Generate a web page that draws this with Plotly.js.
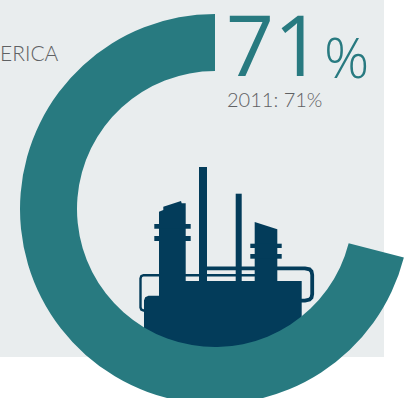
<!DOCTYPE html>
<html>
<head>
<meta charset="utf-8">
<script src="https://cdn.plot.ly/plotly-3.0.1.min.js"></script>
<style>
  html, body { margin: 0; padding: 0; width: 411px; height: 398px; overflow: hidden; background: #fff; }
</style>
</head>
<body>
<div id="chart"></div>
<script>
// Share of the region, this year and in 2011
const regionLabel = "ERICA";
const shareLabels = ["Remainder", "Share"];
const shareValues = [29, 71];
const previousYear = 2011;
const previousShare = 71;

const W = 411, H = 410;
const TEAL = "#287a80", NAVY = "#033c5a", PANEL = "#e9edee", GREY = "#5f6163";

// Convert page pixels to paper fractions
const px = x => x / W;
const py = y => 1 - y / H;
const fillRect = (x0, y0, x1, y1, color) => ({
  type: "rect", xref: "paper", yref: "paper", layer: "below",
  x0: px(x0), x1: px(x1), y0: py(y0), y1: py(y1),
  fillcolor: color, line: { width: 0 }
});
const pathOf = pts => "M" + pts.map(p => px(p[0]).toFixed(5) + "," + py(p[1]).toFixed(5)).join(" L");
const fillPath = pts => ({
  type: "path", xref: "paper", yref: "paper", layer: "below",
  path: pathOf(pts) + " Z", fillcolor: NAVY, line: { width: 0 }
});
const strokePath = (pts, w) => ({
  type: "path", xref: "paper", yref: "paper", layer: "below",
  path: pathOf(pts),
  fillcolor: "rgba(0,0,0,0)", line: { color: NAVY, width: w }
});

// Refinery silhouette sitting behind the ring
const refinery = [
  // pipes
  strokePath([[147, 310.5], [143.5, 310.5], [141.3, 309.5], [140.5, 307.5], [140.5, 278.5], [141.3, 276.2], [143.5, 275.2], [260, 275.2]], 2.4),
  strokePath([[205, 268.3], [305, 268.3], [309.5, 269.3], [311.5, 271.5], [312.2, 275], [312.2, 294], [311.5, 297.5], [309.5, 299.6], [305, 300.6], [300, 300.6]], 3.8),
  // stacks
  fillRect(199, 167, 207, 285, NAVY),
  fillRect(235.7, 193.7, 241.7, 285, NAVY),
  // left column with its flanges
  fillPath([[159, 285], [159, 211.7], [163.3, 210], [163.3, 206.7], [181, 201], [181.7, 203.3], [185.7, 203.3], [185.7, 285]]),
  fillRect(154.3, 224, 190.7, 228.7, NAVY),
  fillRect(154.3, 236, 190.7, 241, NAVY),
  // right column with its flanges
  fillPath([[254.7, 285], [254.7, 222], [277.3, 229.3], [277.3, 285]]),
  fillRect(250.3, 243.7, 281.7, 248, NAVY),
  fillRect(250.3, 254, 281.7, 258.7, NAVY),
  // base block
  fillPath([[144, 360], [144, 300.5], [145.2, 297.2], [148.5, 295.7], [159, 295.7], [159, 281], [301.7, 281], [301.7, 360]])
];

const panel = fillRect(0, 0, 384, 357, PANEL);

const note = (text, x, y, size, color, family, weight) => ({
  text, xref: "paper", yref: "paper", x: px(x), y: py(y),
  xanchor: "left", yanchor: "middle", showarrow: false, borderpad: 0,
  font: { family, size, color, weight }
});

const layout = {
  width: W, height: H,
  margin: { l: 0, r: 0, t: 0, b: 0 },
  paper_bgcolor: "#ffffff",
  showlegend: false,
  shapes: [panel].concat(refinery),
  annotations: [
    note(String(shareValues[1]), 225, 44, 84, TEAL, "Open Sans", 400),
    note("%", 323, 56, 56, TEAL, "Open Sans", 300),
    note(previousYear + ": " + previousShare + "%", 226, 99, 20, GREY, "Lato", 300),
    note(regionLabel, -1, 52, 21, GREY, "Lato", 300)
  ]
};

Plotly.newPlot("chart", [{
  type: "pie",
  labels: shareLabels,
  values: shareValues,
  hole: 138 / 195,
  sort: false,
  direction: "clockwise",
  rotation: 0,
  textinfo: "none",
  hoverinfo: "skip",
  domain: { x: [px(20), px(410)], y: [py(404), py(14)] },
  marker: { colors: ["rgba(0,0,0,0)", TEAL], line: { width: 0 } }
}], layout, { displayModeBar: false, staticPlot: true });
</script>
</body>
</html>
